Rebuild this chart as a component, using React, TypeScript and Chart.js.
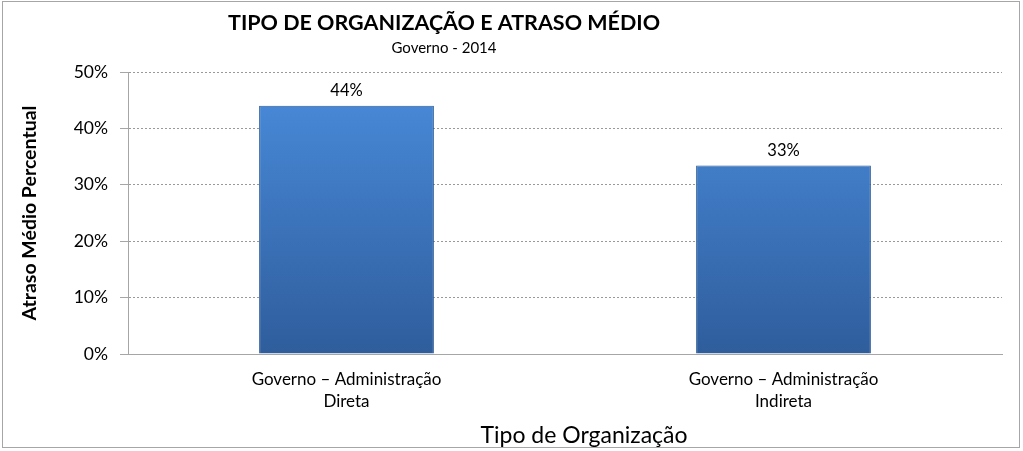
import React, { useEffect, useRef } from "react";
import { Chart, registerables } from "chart.js";

Chart.register(...registerables);

const categories: string[][] = [
  ["Governo – Administração", "Direta"],
  ["Governo – Administração", "Indireta"],
];
const values: number[] = [44, 33.4];
const chartTitle = "TIPO DE ORGANIZAÇÃO E ATRASO MÉDIO";
const chartSubtitle = "Governo - 2014";
const yAxisTitle = "Atraso Médio Percentual";
const xAxisTitle = "Tipo de Organização";

const FONT = "Lato, 'Open Sans', sans-serif";

export default function App() {
  const ref = useRef<HTMLCanvasElement | null>(null);

  useEffect(() => {
    const canvas = ref.current;
    if (!canvas) return;

    const titlePlugin = {
      id: "customTitle",
      afterDraw(chart: any) {
        const ctx = chart.ctx;
        ctx.save();
        ctx.fillStyle = "#000";
        ctx.textAlign = "center";
        ctx.textBaseline = "middle";
        ctx.font = `bold 21.5px ${FONT}`;
        ctx.fillText(chartTitle, 444, 23);
        ctx.font = `15px ${FONT}`;
        ctx.fillText(chartSubtitle, 444, 48);
        ctx.font = `23px ${FONT}`;
        ctx.fillText(xAxisTitle, 584, 436);
        ctx.restore();
      },
    };

    const labelPlugin = {
      id: "barLabels",
      afterDatasetsDraw(chart: any) {
        const ctx = chart.ctx;
        const meta = chart.getDatasetMeta(0);
        ctx.save();
        ctx.fillStyle = "#000";
        ctx.textAlign = "center";
        ctx.textBaseline = "bottom";
        ctx.font = `16.5px ${FONT}`;
        meta.data.forEach((bar: any, i: number) => {
          const v = chart.data.datasets[0].data[i] as number;
          ctx.fillText(Math.round(v) + "%", bar.x, bar.y - 7);
        });
        ctx.restore();
      },
    };

    const chart = new Chart(canvas, {
      type: "bar",
      data: {
        labels: categories,
        datasets: [
          {
            data: values,
            backgroundColor: (c: any) => {
              const area = c.chart.chartArea;
              if (!area) return "#3f7ac4";
              const g = c.chart.ctx.createLinearGradient(0, area.top, 0, area.bottom);
              g.addColorStop(0, "#4a8ddd");
              g.addColorStop(1, "#2f5d9c");
              return g;
            },
            borderColor: "#2c5a94",
            borderWidth: 1,
            barPercentage: 0.4,
            categoryPercentage: 1,
          },
        ],
      },
      options: {
        animation: false,
        responsive: false,
        maintainAspectRatio: false,
        layout: { padding: { top: 72, right: 21, left: 0, bottom: 0 } },
        plugins: {
          legend: { display: false },
          tooltip: { enabled: false },
          title: { display: false },
        },
        scales: {
          x: {
            grid: { display: false },
            border: { color: "#a6a6a6", width: 1 },
            ticks: {
              color: "#000",
              font: { family: FONT, size: 17, lineHeight: 1.3 },
              padding: 6,
            },
            afterFit(scale: any) {
              scale.height = 97;
            },
          },
          y: {
            min: 0,
            max: 50,
            ticks: {
              stepSize: 10,
              color: "#000",
              font: { family: FONT, size: 17.5 },
              padding: 12,
              callback: (v: any) => v + "%",
            },
            grid: {
              color: "#999999",
              lineWidth: 1,
              tickLength: 8,
              tickColor: "#a6a6a6",
              tickBorderDash: [],
            },
            border: { color: "#a6a6a6", width: 1, dash: [2, 2] },
            title: {
              display: true,
              text: yAxisTitle,
              color: "#000",
              font: { family: FONT, size: 19.5, weight: "bold" },
              padding: { top: 18, bottom: 0 },
            },
            afterFit(scale: any) {
              scale.width = 128;
            },
          },
        },
      } as any,
      plugins: [titlePlugin, labelPlugin],
    });

    return () => chart.destroy();
  }, []);

  return (
    <div style={{ position: "absolute", left: 0, top: 0, width: 1023, height: 451, background: "#fff" }}>
      <canvas ref={ref} width={1023} height={451} style={{ display: "block" }} />
      <div
        style={{
          position: "absolute",
          left: 2,
          top: 1,
          width: 1016,
          height: 445,
          border: "1px solid #a6a6a6",
          pointerEvents: "none",
        }}
      />
    </div>
  );
}
